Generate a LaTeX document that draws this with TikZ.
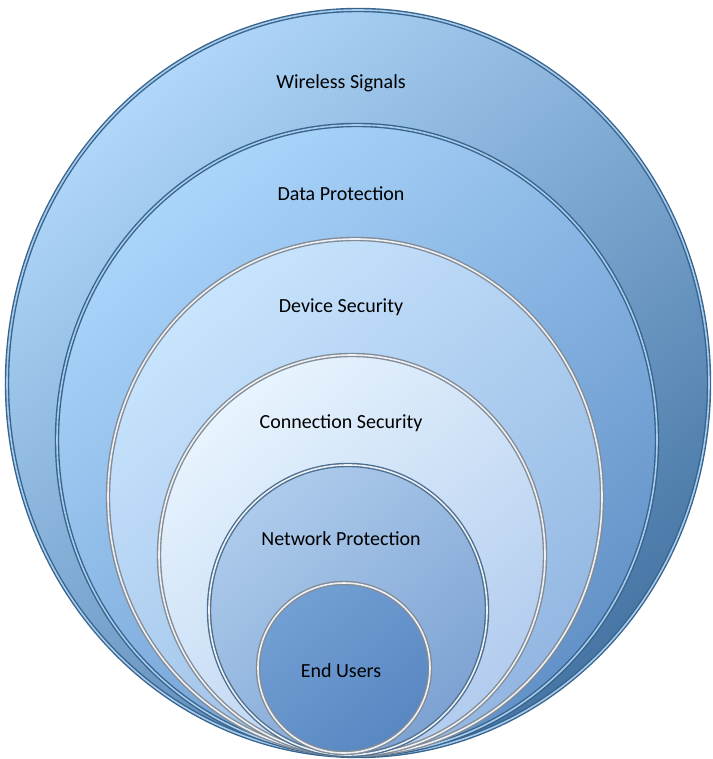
\documentclass[tikz,border=0pt]{standalone}
\usepackage{fontspec}
\setmainfont{Carlito}
\definecolor{wirelessTop}{HTML}{B0D7FA}
\definecolor{wirelessBot}{HTML}{4776A5}
\definecolor{dataTop}{HTML}{AAD5FB}
\definecolor{dataBot}{HTML}{6392C8}
\definecolor{deviceTop}{HTML}{C8E4FD}
\definecolor{deviceBot}{HTML}{93B7E2}
\definecolor{connTop}{HTML}{E8F4FE}
\definecolor{connBot}{HTML}{B2CCEE}
\definecolor{netTop}{HTML}{ADCBEC}
\definecolor{netBot}{HTML}{7DA2D2}
\definecolor{endTop}{HTML}{729FD3}
\definecolor{endBot}{HTML}{5887C2}
\definecolor{blueRim}{HTML}{36648F}
\definecolor{blueGlow}{HTML}{A9CBEA}
\definecolor{greyRim}{HTML}{838C96}
\definecolor{greyGlow}{HTML}{EDF1F5}
\begin{document}
\begin{tikzpicture}[x=1pt, y=1pt,
		rim/.style={line width=1.4pt, double distance=1.6pt},
		blue rim/.style={rim, draw=blueRim, double=blueGlow},
		grey rim/.style={rim, draw=greyRim, double=greyGlow},
		layer label/.style={font=\fontsize{20}{24}\selectfont, text=black, inner sep=0pt}]
	\useasboundingbox (0,0) rectangle (712,759);
	\shadedraw[blue rim, top color=wirelessTop, bottom color=wirelessBot, shading angle=40]
		(358,376) ellipse [x radius=351, y radius=373];
	\shadedraw[blue rim, top color=dataTop, bottom color=dataBot, shading angle=40]
		(357,319) ellipse [x radius=300, y radius=315];
	\shadedraw[grey rim, top color=deviceTop, bottom color=deviceBot, shading angle=40]
		(355,262) ellipse [x radius=247, y radius=258];
	\shadedraw[grey rim, top color=connTop, bottom color=connBot, shading angle=40]
		(352,204) ellipse [x radius=193, y radius=200];
	\shadedraw[grey rim, draw=blueRim!70!greyRim, top color=netTop, bottom color=netBot, shading angle=40]
		(348,149) ellipse [x radius=139, y radius=145];
	\shadedraw[grey rim, top color=endTop, bottom color=endBot, shading angle=40]
		(344,91) ellipse [x radius=86, y radius=85];
	\node[layer label] (wireless) at (341,676) {Wireless Signals};
	\node[layer label] (data) at (341,565) {Data Protection};
	\node[layer label] (device) at (341,452) {Device Security};
	\node[layer label] (connection) at (341,336) {Connection Security};
	\node[layer label] (network) at (341,220) {Network Protection};
	\node[layer label] (endusers) at (341,88) {End Users};
\end{tikzpicture}
\end{document}
